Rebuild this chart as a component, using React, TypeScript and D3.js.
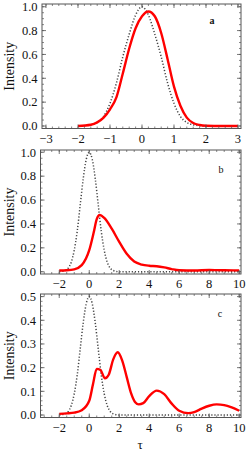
import React from 'react'
import * as d3 from 'd3'

// panel a: input (dotted) and output (red) pulses
const tauInA = [-2, -1.6, -1.4, -1.2, -1, -0.8, -0.6, -0.4, -0.2, 0, 0.2, 0.4, 0.6, 0.8, 1, 1.2, 1.4, 1.6, 1.8, 2, 2.5, 3]
const inputA = [0, 0.01, 0.03, 0.08, 0.19, 0.36, 0.58, 0.77, 0.93, 1.0, 0.93, 0.77, 0.58, 0.36, 0.19, 0.08, 0.03, 0.01, 0.003, 0, 0, 0]
const tauOutA = [-2, -1.6, -1.4, -1.2, -1, -0.8, -0.6, -0.4, -0.2, 0, 0.2, 0.4, 0.6, 0.8, 1, 1.2, 1.4, 1.6, 1.8, 2, 2.5, 3]
const outputA = [0, 0.01, 0.03, 0.07, 0.14, 0.24, 0.44, 0.65, 0.82, 0.92, 0.96, 0.92, 0.78, 0.56, 0.33, 0.17, 0.07, 0.025, 0.008, 0.002, 0, 0]

// panel b
const tauInB = [-2, -1.6, -1.4, -1.2, -1, -0.8, -0.6, -0.4, -0.2, 0, 0.2, 0.4, 0.6, 0.8, 1, 1.2, 1.4, 1.6, 2, 3, 4, 6, 8, 10]
const inputB = [0, 0.01, 0.03, 0.08, 0.18, 0.34, 0.56, 0.78, 0.94, 1, 0.94, 0.78, 0.56, 0.34, 0.18, 0.08, 0.03, 0.01, 0, 0, 0, 0, 0, 0]
const tauOutB = [-2, -1.5, -1, -0.5, 0, 0.3, 0.5, 0.7, 1, 1.5, 2, 2.5, 3, 3.5, 4, 4.5, 5, 5.5, 6, 7, 8, 9, 10]
const outputB = [0.01, 0.012, 0.02, 0.055, 0.18, 0.33, 0.44, 0.475, 0.45, 0.36, 0.25, 0.15, 0.085, 0.06, 0.05, 0.046, 0.036, 0.022, 0.012, 0.01, 0.014, 0.013, 0.01]

// panel c
const tauInC = [-2, -1.6, -1.4, -1.2, -1, -0.8, -0.6, -0.4, -0.2, 0, 0.2, 0.4, 0.6, 0.8, 1, 1.2, 1.4, 1.6, 2, 3, 4, 6, 8, 10]
const inputC = [0, 0.005, 0.015, 0.04, 0.09, 0.17, 0.28, 0.39, 0.47, 0.5, 0.47, 0.39, 0.28, 0.17, 0.09, 0.04, 0.015, 0.005, 0, 0, 0, 0, 0, 0]
const tauOutC = [-2, -1.5, -1, -0.5, 0, 0.25, 0.5, 0.75, 1.05, 1.3, 1.6, 1.9, 2.2, 2.5, 2.8, 3.05, 3.3, 3.6, 4, 4.5, 5, 5.5, 6, 6.6, 7, 7.5, 8, 8.5, 9, 9.5, 10]
const outputC = [0.005, 0.007, 0.01, 0.02, 0.06, 0.13, 0.195, 0.19, 0.155, 0.17, 0.235, 0.265, 0.23, 0.16, 0.09, 0.055, 0.045, 0.05, 0.08, 0.103, 0.088, 0.048, 0.018, 0.008, 0.012, 0.027, 0.039, 0.045, 0.042, 0.032, 0.018]

const xTicksA = [-3, -2, -1, 0, 1, 2, 3]
const xTicksBC = [-2, 0, 2, 4, 6, 8, 10]
const yTicksAB = [0, 0.2, 0.4, 0.6, 0.8, 1.0]
const yTicksC = [0, 0.1, 0.2, 0.3, 0.4, 0.5]

const W = 246, H = 454
const FONT = '"Liberation Serif", "Times New Roman", serif'
const frameColor = '#555'
const textColor = '#111'

const panels = [
  {
    label: 'a', labelBold: true,
    left: 42, right: 241, top: 4, bottom: 128.5,
    xDom: [-3.125, 3.094], yDom: [-0.021, 1.023],
    xTicks: xTicksA, xMinor: 0.2, yTicks: yTicksAB, yMinor: 0.05,
    tauIn: tauInA, input: inputA, tauOut: tauOutA, output: outputA,
    labelPos: [212, 24],
  },
  {
    label: 'b', labelBold: false,
    left: 40.5, right: 241, top: 150, bottom: 274,
    xDom: [-3.25, 10.12], yDom: [-0.019, 1.019],
    xTicks: xTicksBC, xMinor: 0.5, yTicks: yTicksAB, yMinor: 0.05,
    tauIn: tauInB, input: inputB, tauOut: tauOutB, output: outputB,
    labelPos: [221, 173],
  },
  {
    label: 'c', labelBold: false,
    left: 40.5, right: 241, top: 294, bottom: 417.5,
    xDom: [-3.25, 10.12], yDom: [-0.0105, 0.511],
    xTicks: xTicksBC, xMinor: 0.5, yTicks: yTicksC, yMinor: 0.02,
    tauIn: tauInC, input: inputC, tauOut: tauOutC, output: outputC,
    labelPos: [220, 317],
  },
]

const fmtY = d3.format('.1f')
const fmtX = d3.format('d')

function Panel({ p, idx }: { p: any; idx: number }) {
  const x = d3.scaleLinear().domain(p.xDom).range([p.left, p.right])
  const y = d3.scaleLinear().domain(p.yDom).range([p.bottom, p.top])
  const line = d3.line<[number, number]>()
    .x(d => x(d[0]))
    .y(d => y(d[1]))
    .curve(d3.curveMonotoneX)
  const inPts: [number, number][] = p.tauIn.map((t: number, i: number) => [t, p.input[i]])
  const outPts: [number, number][] = p.tauOut.map((t: number, i: number) => [t, p.output[i]])

  const xMin = d3.range(Math.ceil(p.xDom[0] / p.xMinor) * p.xMinor, p.xDom[1], p.xMinor)
  const yMin = d3.range(Math.ceil(p.yDom[0] / p.yMinor) * p.yMinor, p.yDom[1], p.yMinor)
  const clipId = 'clip' + idx

  return (
    <g>
      <defs>
        <clipPath id={clipId}>
          <rect x={p.left} y={p.top} width={p.right - p.left} height={p.bottom - p.top} />
        </clipPath>
      </defs>
      <g clipPath={`url(#${clipId})`}>
        <path d={line(inPts) || ''} fill="none" stroke="#444" strokeWidth={1.5} strokeDasharray="1.2 1.9" />
        <path d={line(outPts) || ''} fill="none" stroke="#ff0000" strokeWidth={2.4} strokeLinejoin="round" />
      </g>
      {/* minor ticks */}
      {xMin.map((v, i) => (
        <g key={'xm' + i} stroke={frameColor} strokeWidth={0.7}>
          <line x1={x(v)} x2={x(v)} y1={p.bottom} y2={p.bottom - 2} />
          <line x1={x(v)} x2={x(v)} y1={p.top} y2={p.top + 2} />
        </g>
      ))}
      {yMin.map((v, i) => (
        <g key={'ym' + i} stroke={frameColor} strokeWidth={0.7}>
          <line x1={p.left} x2={p.left + 2} y1={y(v)} y2={y(v)} />
          <line x1={p.right} x2={p.right - 2} y1={y(v)} y2={y(v)} />
        </g>
      ))}
      {/* major ticks */}
      {p.xTicks.map((v: number) => (
        <g key={'x' + v}>
          <line x1={x(v)} x2={x(v)} y1={p.bottom} y2={p.bottom - 4} stroke={frameColor} strokeWidth={0.8} />
          <line x1={x(v)} x2={x(v)} y1={p.top} y2={p.top + 4} stroke={frameColor} strokeWidth={0.8} />
          <text x={x(v)} y={p.bottom + 14} textAnchor="middle" fontSize={12.5} fontFamily={FONT} fill={textColor}>
            {fmtX(v)}
          </text>
        </g>
      ))}
      {p.yTicks.map((v: number) => (
        <g key={'y' + v}>
          <line x1={p.left} x2={p.left + 4} y1={y(v)} y2={y(v)} stroke={frameColor} strokeWidth={0.8} />
          <line x1={p.right} x2={p.right - 4} y1={y(v)} y2={y(v)} stroke={frameColor} strokeWidth={0.8} />
          <text x={p.left - 4.5} y={y(v) + 4.3} textAnchor="end" fontSize={12.5} fontFamily={FONT} fill={textColor}>
            {fmtY(v)}
          </text>
        </g>
      ))}
      <rect x={p.left} y={p.top} width={p.right - p.left} height={p.bottom - p.top}
        fill="none" stroke={frameColor} strokeWidth={1} />
      <text transform={`translate(14,${(p.top + p.bottom) / 2}) rotate(-90)`} textAnchor="middle"
        fontSize={14} fontFamily={FONT} fill={textColor}>Intensity</text>
      <text x={p.labelPos[0]} y={p.labelPos[1]} textAnchor="middle" fontSize={10}
        fontWeight={p.labelBold ? 'bold' : 'normal'} fontFamily={FONT} fill={textColor}>{p.label}</text>
    </g>
  )
}

export default function App() {
  return (
    <svg width={W} height={H} style={{ position: 'absolute', left: 0, top: 0, background: '#fff' }}>
      <rect width={W} height={H} fill="#fff" />
      {panels.map((p, i) => <Panel key={p.label} p={p} idx={i} />)}
      <text x={140} y={449} textAnchor="middle" fontSize={13} fontFamily={FONT} fill={textColor}>τ</text>
    </svg>
  )
}
